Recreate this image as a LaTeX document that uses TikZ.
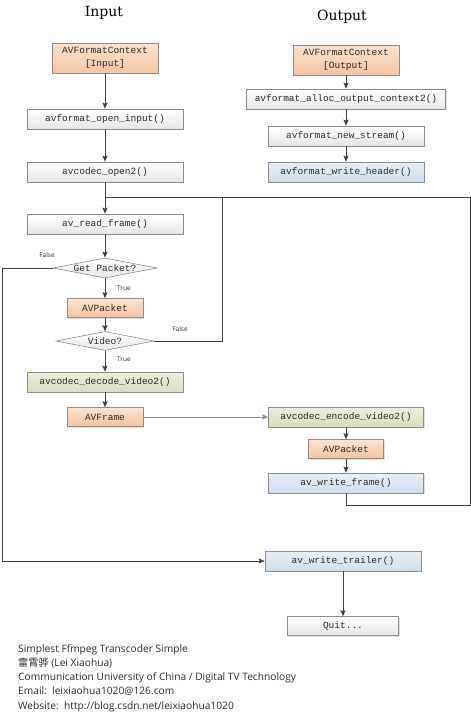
\documentclass[tikz,border=0pt]{standalone}
\usepackage{fontspec}
\setmonofont{Liberation Mono}
\setsansfont{Open Sans}
\newfontfamily\titlefont{DejaVu Serif}
\newfontfamily\cjk{Noto Sans CJK SC}
\usetikzlibrary{arrows.meta,shapes.geometric,shadows}

\definecolor{boxline}{HTML}{8C8C8C}
\definecolor{arrowline}{HTML}{404040}
\definecolor{peachtop}{HTML}{FCE2CF}
\definecolor{peachbot}{HTML}{F6C4A0}
\definecolor{greytop}{HTML}{FFFFFF}
\definecolor{greybot}{HTML}{E6E6E6}
\definecolor{greentop}{HTML}{EBEFDC}
\definecolor{greenbot}{HTML}{D6DEBC}
\definecolor{bluetop}{HTML}{E8F0F8}
\definecolor{bluebot}{HTML}{CFDDEB}
\definecolor{inktext}{HTML}{2B2B2B}

\begin{document}
\begin{tikzpicture}[x=1pt,y=-1pt,
        fnbox/.style={draw=boxline, line width=.6pt, inner sep=0pt,
            minimum width=156pt, minimum height=20pt, text=inktext,
            font=\ttfamily\fontsize{9.5}{13}\selectfont,
            top color=greytop, bottom color=greybot,
            drop shadow={opacity=.25, shadow xshift=1pt, shadow yshift=-1pt}},
        ctxbox/.style={fnbox, align=center, minimum width=106pt, minimum height=30pt,
            top color=peachtop, bottom color=peachbot},
        databox/.style={fnbox, minimum width=76pt, minimum height=19pt,
            top color=peachtop, bottom color=peachbot},
        codecbox/.style={fnbox, top color=greentop, bottom color=greenbot},
        muxbox/.style={fnbox, top color=bluetop, bottom color=bluebot},
        decision/.style={diamond, draw=boxline, line width=.6pt, inner sep=0pt,
            aspect=5, text=inktext, font=\ttfamily\fontsize{9.5}{11}\selectfont,
            top color=greytop, bottom color=greybot},
        flow/.style={draw=arrowline, line width=1pt,
            -{Stealth[length=6pt, width=5pt, inset=1pt]}},
        thinflow/.style={draw=boxline, line width=.7pt,
            -{Stealth[length=6pt, width=5pt, inset=1pt]}},
        loopline/.style={draw=arrowline, line width=1pt},
        lbl/.style={font=\sffamily\fontsize{6.5}{7}\selectfont, text=inktext, inner sep=0pt},
        title/.style={font=\titlefont\fontsize{14}{16}\selectfont, inner sep=0pt}]

    \useasboundingbox[fill=white] (0,0) rectangle (471,716);

    % headings
    \node[title] (intitle) at (104,13) {Input};
    \node[title] (outtitle) at (342,17) {Output};

    % input side
    \node[ctxbox] (inctx) at (105,58) {AVFormatContext\\{[Input]}};
    \node[fnbox] (openin) at (105,119) {avformat\_open\_input()};
    \node[fnbox] (codecopen) at (105,172) {avcodec\_open2()};
    \node[fnbox] (readframe) at (105,224) {av\_read\_frame()};
    \node[decision, minimum width=104pt, minimum height=20pt] (getpkt) at (105,268) {Get Packet?};
    \node[databox] (inpkt) at (105,308) {AVPacket};
    \node[decision, minimum width=98pt, minimum height=19pt] (isvideo) at (105,341) {Video?};
    \node[codecbox] (decode) at (105,382) {avcodec\_decode\_video2()};
    \node[databox] (frame) at (105,417) {AVFrame};

    % output side
    \node[ctxbox] (outctx) at (346,60) {AVFormatContext\\{[Output]}};
    \node[fnbox, minimum width=199pt] (alloc) at (346,99) {avformat\_alloc\_output\_context2()};
    \node[fnbox] (newstream) at (346,136) {avformat\_new\_stream()};
    \node[muxbox] (header) at (346,172) {avformat\_write\_header()};
    \node[codecbox, minimum width=155pt] (encode) at (346,417) {avcodec\_encode\_video2()};
    \node[databox, minimum width=75pt] (outpkt) at (346,449) {AVPacket};
    \node[muxbox, minimum width=155pt] (writeframe) at (346,483) {av\_write\_frame()};
    \node[muxbox] (trailer) at (343,561) {av\_write\_trailer()};
    \node[fnbox, minimum width=111pt, minimum height=19pt] (quit) at (343,626) {Quit...};

    % branch labels
    \node[lbl] (gpfalse) at (47,255) {False};
    \node[lbl] (gptrue) at (124,288) {True};
    \node[lbl] (vidfalse) at (180,329) {False};
    \node[lbl] (vidtrue) at (124,359) {True};

    \coordinate (join) at (105,197);
    \coordinate (loopR) at (470,505);
    \coordinate (vidup) at (222,197);
    \coordinate (farL) at (2,561);

    \draw[flow] (inctx) -- (openin);
    \draw[flow] (openin) -- (codecopen);
    \draw[flow] (codecopen) -- (readframe);
    \draw[flow] (readframe) -- (getpkt);
    \draw[flow] (getpkt) -- (inpkt);
    \draw[flow] (inpkt) -- (isvideo);
    \draw[flow] (isvideo) -- (decode);
    \draw[flow] (decode) -- (frame);
    \draw[thinflow] (frame) -- (encode);

    \draw[flow] (outctx) -- (alloc);
    \draw[flow] (alloc) -- (newstream);
    \draw[flow] (newstream) -- (header);
    \draw[flow] (encode) -- (outpkt);
    \draw[flow] (outpkt) -- (writeframe);
    \draw[flow] (trailer) -- (quit);

    % loops back to av_read_frame and out to the trailer
    \draw[loopline] (writeframe) |- (loopR) |- (join);
    \draw[loopline] (isvideo) -| (vidup);
    \draw[flow] (getpkt) -| (farL) -- (trailer);

    % credits
    \node[anchor=north west, align=left, inner sep=0pt, text=inktext,
        font=\sffamily\fontsize{10.2}{14.3}\selectfont] (credits) at (18,644)
        {Simplest Ffmpeg Transcoder Simple\\
         {\cjk 雷霄骅} (Lei Xiaohua)\\
         Communication University of China / Digital TV Technology\\
         Email:\ \ leixiaohua1020@126.com\\
         Website:\ \ http://blog.csdn.net/leixiaohua1020};
\end{tikzpicture}
\end{document}
